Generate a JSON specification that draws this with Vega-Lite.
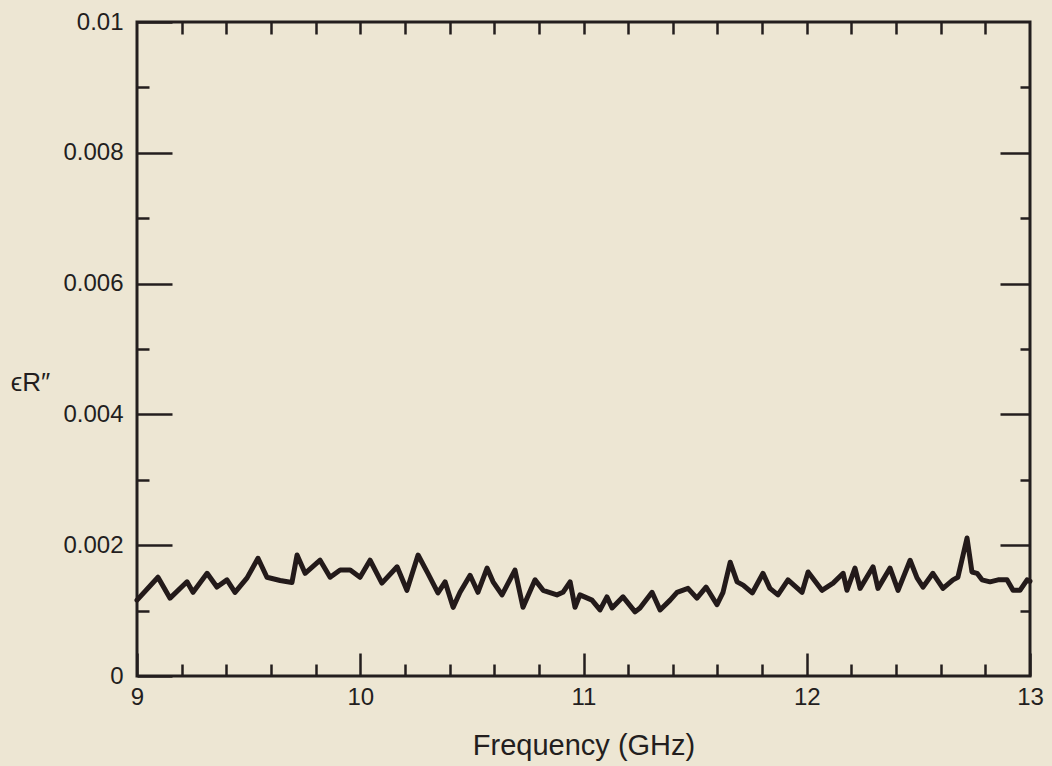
{
  "$schema": "https://vega.github.io/schema/vega-lite/v6.json",
  "width": 893,
  "height": 654,
  "autosize": {"type": "none"},
  "padding": {"left": 137, "top": 22, "right": 22, "bottom": 90},
  "background": "#ede6d3",
  "config": {
    "view": {"stroke": "#231e1e", "strokeWidth": 3},
    "font": "Liberation Sans",
    "axis": {"grid": false, "domain": false, "tickColor": "#231e1e", "tickWidth": 2.5, "labelColor": "#231e1e", "titleColor": "#231e1e", "labelFont": "Liberation Sans", "titleFont": "Liberation Sans"}
  },
  "data": {
    "values": [
      {"f": 9.000, "e": 0.00116}, {"f": 9.094, "e": 0.00151}, {"f": 9.148, "e": 0.00119}, {"f": 9.224, "e": 0.00144},
      {"f": 9.251, "e": 0.00128}, {"f": 9.314, "e": 0.00157}, {"f": 9.358, "e": 0.00136}, {"f": 9.403, "e": 0.00147},
      {"f": 9.439, "e": 0.00128}, {"f": 9.493, "e": 0.00150}, {"f": 9.542, "e": 0.00180}, {"f": 9.582, "e": 0.00151},
      {"f": 9.641, "e": 0.00146}, {"f": 9.694, "e": 0.00143}, {"f": 9.717, "e": 0.00185}, {"f": 9.753, "e": 0.00157},
      {"f": 9.820, "e": 0.00177}, {"f": 9.865, "e": 0.00151}, {"f": 9.910, "e": 0.00162}, {"f": 9.955, "e": 0.00162},
      {"f": 9.999, "e": 0.00151}, {"f": 10.044, "e": 0.00177}, {"f": 10.097, "e": 0.00142}, {"f": 10.165, "e": 0.00167},
      {"f": 10.209, "e": 0.00131}, {"f": 10.259, "e": 0.00185}, {"f": 10.303, "e": 0.00157}, {"f": 10.348, "e": 0.00127},
      {"f": 10.380, "e": 0.00144}, {"f": 10.416, "e": 0.00105}, {"f": 10.447, "e": 0.00128}, {"f": 10.492, "e": 0.00154},
      {"f": 10.527, "e": 0.00128}, {"f": 10.568, "e": 0.00165}, {"f": 10.595, "e": 0.00144}, {"f": 10.635, "e": 0.00124},
      {"f": 10.693, "e": 0.00162}, {"f": 10.729, "e": 0.00105}, {"f": 10.783, "e": 0.00147}, {"f": 10.819, "e": 0.00131},
      {"f": 10.881, "e": 0.00124}, {"f": 10.908, "e": 0.00128}, {"f": 10.940, "e": 0.00144}, {"f": 10.962, "e": 0.00105},
      {"f": 10.984, "e": 0.00124}, {"f": 11.038, "e": 0.00116}, {"f": 11.074, "e": 0.00101}, {"f": 11.105, "e": 0.00121},
      {"f": 11.128, "e": 0.00104}, {"f": 11.177, "e": 0.00121}, {"f": 11.231, "e": 0.00098}, {"f": 11.253, "e": 0.00104},
      {"f": 11.307, "e": 0.00128}, {"f": 11.343, "e": 0.00101}, {"f": 11.388, "e": 0.00116}, {"f": 11.419, "e": 0.00128},
      {"f": 11.468, "e": 0.00134}, {"f": 11.508, "e": 0.00119}, {"f": 11.549, "e": 0.00136}, {"f": 11.598, "e": 0.00109},
      {"f": 11.625, "e": 0.00128}, {"f": 11.657, "e": 0.00174}, {"f": 11.688, "e": 0.00144}, {"f": 11.715, "e": 0.00139},
      {"f": 11.756, "e": 0.00127}, {"f": 11.804, "e": 0.00157}, {"f": 11.835, "e": 0.00134}, {"f": 11.871, "e": 0.00124},
      {"f": 11.916, "e": 0.00147}, {"f": 11.979, "e": 0.00128}, {"f": 12.006, "e": 0.00159}, {"f": 12.068, "e": 0.00131},
      {"f": 12.118, "e": 0.00142}, {"f": 12.163, "e": 0.00157}, {"f": 12.180, "e": 0.00131}, {"f": 12.216, "e": 0.00165},
      {"f": 12.239, "e": 0.00134}, {"f": 12.297, "e": 0.00167}, {"f": 12.319, "e": 0.00134}, {"f": 12.373, "e": 0.00165},
      {"f": 12.409, "e": 0.00131}, {"f": 12.463, "e": 0.00177}, {"f": 12.494, "e": 0.00150}, {"f": 12.521, "e": 0.00136},
      {"f": 12.565, "e": 0.00157}, {"f": 12.610, "e": 0.00134}, {"f": 12.655, "e": 0.00147}, {"f": 12.677, "e": 0.00151},
      {"f": 12.718, "e": 0.00211}, {"f": 12.740, "e": 0.00159}, {"f": 12.763, "e": 0.00157}, {"f": 12.785, "e": 0.00147},
      {"f": 12.821, "e": 0.00144}, {"f": 12.857, "e": 0.00147}, {"f": 12.897, "e": 0.00147}, {"f": 12.924, "e": 0.00131},
      {"f": 12.955, "e": 0.00131}, {"f": 12.987, "e": 0.00147}, {"f": 13.000, "e": 0.00145}
    ]
  },
  "resolve": {"axis": {"x": "independent", "y": "independent"}},
  "layer": [
    {
      "mark": {"type": "line", "color": "#231a1a", "strokeWidth": 5, "strokeJoin": "round", "strokeCap": "round"},
      "encoding": {
        "x": {"field": "f", "type": "quantitative", "scale": {"domain": [9, 13], "nice": false},
          "axis": {"orient": "bottom", "values": [9, 10, 11, 12, 13], "tickSize": -23, "format": "d", "labelFontSize": 24, "labelPadding": 32, "labelFlush": false,
            "title": "Frequency (GHz)", "titleFontSize": 29, "titleFontWeight": "normal", "titlePadding": 22}},
        "y": {"field": "e", "type": "quantitative", "scale": {"domain": [0, 0.01], "nice": false, "zero": true},
          "axis": {"orient": "left", "values": [0, 0.002, 0.004, 0.006, 0.008, 0.01], "tickSize": -35, "format": "~g", "labelFontSize": 24, "labelPadding": 49, "labelFlush": false,
            "title": "ϵR″", "titleFontSize": 26, "titleFontWeight": "normal", "titleAngle": 0, "titleAlign": "center", "titleBaseline": "middle", "titleX": -107, "titleY": 360}}
      }
    },
    {
      "mark": {"type": "line", "strokeOpacity": 0},
      "encoding": {
        "x": {"field": "f", "type": "quantitative",
          "axis": {"orient": "bottom", "values": [9.2, 9.4, 9.6, 9.8, 10.2, 10.4, 10.6, 10.8, 11.2, 11.4, 11.6, 11.8, 12.2, 12.4, 12.6, 12.8], "tickSize": -12, "labels": false, "title": null}},
        "y": {"field": "e", "type": "quantitative",
          "axis": {"orient": "left", "values": [0.001, 0.003, 0.005, 0.007, 0.009], "tickSize": -12, "labels": false, "title": null}}
      }
    },
    {
      "mark": {"type": "line", "strokeOpacity": 0},
      "encoding": {
        "x": {"field": "f", "type": "quantitative",
          "axis": {"orient": "top", "values": [9.2, 9.4, 9.6, 9.8, 10, 10.2, 10.4, 10.6, 10.8, 11, 11.2, 11.4, 11.6, 11.8, 12, 12.2, 12.4, 12.6, 12.8], "tickSize": -12, "labels": false, "title": null}},
        "y": {"field": "e", "type": "quantitative",
          "axis": {"orient": "right", "values": [0.002, 0.004, 0.006, 0.008], "tickSize": -30, "labels": false, "title": null}}
      }
    },
    {
      "mark": {"type": "line", "strokeOpacity": 0},
      "encoding": {
        "x": {"field": "f", "type": "quantitative", "axis": null},
        "y": {"field": "e", "type": "quantitative",
          "axis": {"orient": "right", "values": [0.001, 0.003, 0.005, 0.007, 0.009], "tickSize": -10, "labels": false, "title": null}}
      }
    }
  ]
}
